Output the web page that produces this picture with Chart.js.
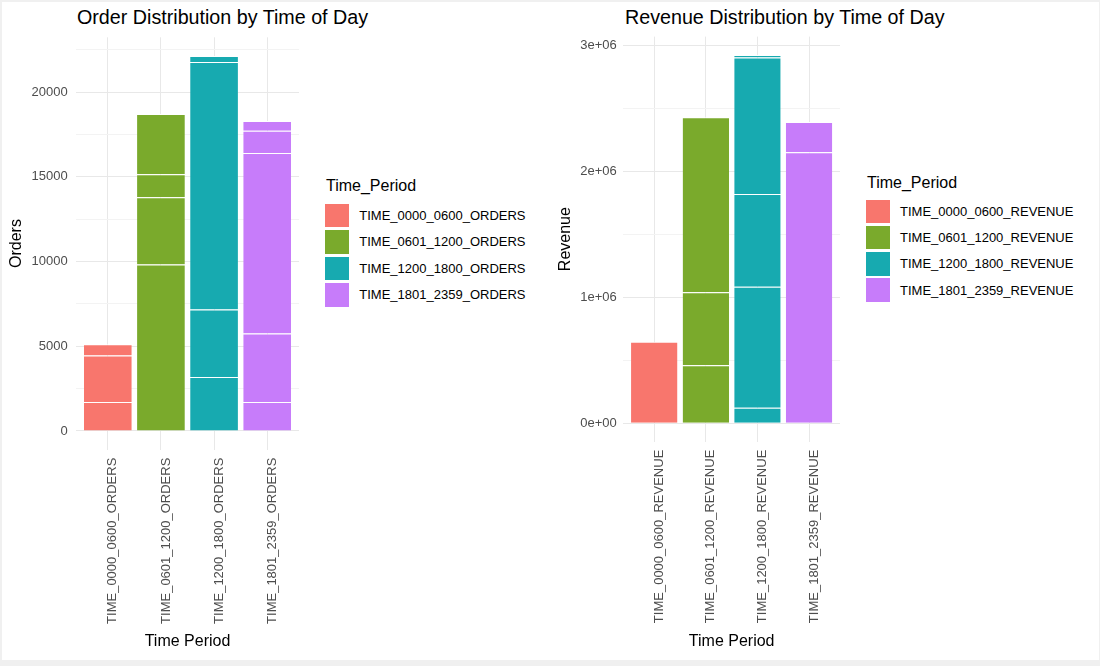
<!DOCTYPE html>
<html>
<head>
<meta charset="utf-8">
<script src="https://cdn.jsdelivr.net/npm/chart.js"></script>
<style>
  body { margin: 0; background: #f0f0f0; font-family: 'Liberation Sans', Arial, sans-serif; }
  #page { position: absolute; left: 2px; top: 2px; width: 1097px; height: 658px; background: #fff; }
  canvas { position: absolute; top: 0; }
  .title { position: absolute; font-size: 19.7px; line-height: 20px; color: #000; white-space: nowrap; }
  .legTitle { position: absolute; font-size: 16px; line-height: 20px; color: #000; white-space: nowrap; }
  .legRow { position: absolute; height: 24px; display: flex; align-items: center; white-space: nowrap; font-size: 13px; color: #000; }
  .legKey { width: 24px; height: 23.5px; margin-right: 10px; }
</style>
</head>
<body>
<div id="page"></div>
<div class="title" style="left:77px; top:7px;">Order Distribution by Time of Day</div>
<div class="title" style="left:625px; top:7px;">Revenue Distribution by Time of Day</div>
<canvas id="orders" width="310" height="666" style="left:0px"></canvas>
<canvas id="revenue" width="300" height="666" style="left:550px"></canvas>
<div id="legOrders"></div>
<div id="legRevenue"></div>
<script>
const orderLabels = ['TIME_0000_0600_ORDERS', 'TIME_0601_1200_ORDERS', 'TIME_1200_1800_ORDERS', 'TIME_1801_2359_ORDERS'];
const revenueLabels = ['TIME_0000_0600_REVENUE', 'TIME_0601_1200_REVENUE', 'TIME_1200_1800_REVENUE', 'TIME_1801_2359_REVENUE'];
const periodColors = ['#F8766D', '#7AAA2C', '#17AAB0', '#C77CFA'];

// pieces of each stacked bar, bottom to top
const orders0000 = [1711, 2737, 667];
const orders0601 = [9817, 3971, 1357, 3557];
const orders1200 = [3186, 3976, 14608, 354];
const orders1801 = [1711, 4035, 10655, 1321, 567];

const revenue0000 = [647000];
const revenue0601 = [460000, 579000, 1388000];
const revenue1200 = [124000, 959000, 735000, 1084000, 19000];
const revenue1801 = [2149000, 240000];

Chart.defaults.font.family = "'Liberation Sans', Arial, sans-serif";

function makeChart(id, labels, pieces, cfg) {
  const layers = Math.max(...pieces.map(p => p.length));
  const datasets = [];
  for (let k = 0; k < layers; k++) {
    const pts = [];
    pieces.forEach((p, i) => { if (p[k] !== undefined) pts.push({ x: i, y: p[k] }); });
    datasets.push({
      data: pts,
      backgroundColor: ctx => periodColors[ctx.raw ? ctx.raw.x : 0],
      borderColor: '#ffffff',
      borderWidth: { top: 1, bottom: 0, left: 0, right: 0 },
      borderSkipped: false,
      barPercentage: 0.9,
      categoryPercentage: 1
    });
  }
  const maxTotal = Math.max(...pieces.map(p => p.reduce((a, b) => a + b, 0)));

  return new Chart(document.getElementById(id), {
    type: 'bar',
    data: { datasets: datasets },
    options: {
      responsive: false,
      animation: false,
      layout: { padding: { top: cfg.top, right: cfg.right, left: 0, bottom: 0 } },
      plugins: { legend: { display: false }, tooltip: { enabled: false } },
      scales: {
        x: {
          type: 'linear',
          min: -0.6,
          max: labels.length - 0.4,
          offset: false,
          stacked: true,
          grid: { color: '#e8e8e8', drawTicks: false, offset: false },
          border: { display: false },
          afterBuildTicks: s => { s.ticks = labels.map((_, i) => ({ value: i })); },
          afterFit: s => { s.height = cfg.xHeight; },
          ticks: {
            autoSkip: false, minRotation: 90, maxRotation: 90,
            padding: 8, labelOffset: 5, color: '#4d4d4d', font: { size: 13 },
            callback: v => labels[v]
          },
          title: { display: true, text: 'Time Period', color: '#000', font: { size: 16 }, padding: { top: 0, bottom: 14.4 } }
        },
        y: {
          stacked: true,
          min: -0.05 * maxTotal,
          max: 1.05 * maxTotal,
          grid: {
            drawTicks: false,
            color: ctx => (ctx.tick && ctx.tick.value % cfg.major === 0) ? '#e8e8e8' : '#f3f3f3'
          },
          border: { display: false },
          afterBuildTicks: s => {
            const t = [];
            for (let v = 0; v <= s.max; v += cfg.major / 2) t.push({ value: v });
            s.ticks = t;
          },
          afterFit: s => { s.width = cfg.yWidth; },
          ticks: {
            padding: cfg.tickPad, color: '#4d4d4d', font: { size: 13 },
            callback: v => v % cfg.major === 0 ? cfg.fmt(v) : ''
          },
          title: { display: true, text: cfg.yTitle, color: '#000', font: { size: 16 }, padding: { top: cfg.titlePad, bottom: 0 } }
        }
      }
    }
  });
}

makeChart('orders', orderLabels, [orders0000, orders0601, orders1200, orders1801], {
  top: 37.3, right: 11, xHeight: 216.3, yWidth: 76, tickPad: 8.3, titlePad: 6.9,
  major: 5000, yTitle: 'Orders', fmt: v => String(v)
});

makeChart('revenue', revenueLabels, [revenue0000, revenue0601, revenue1200, revenue1801], {
  top: 36.6, right: 10, xHeight: 224.3, yWidth: 73.3, tickPad: 6.6, titlePad: 6.2,
  major: 1000000, yTitle: 'Revenue', fmt: v => v === 0 ? '0e+00' : (v / 1e6) + 'e+06'
});

function buildLegend(el, labels, x, titleY, keyTop, pitch, textX) {
  const box = document.getElementById(el);
  const t = document.createElement('div');
  t.className = 'legTitle';
  t.style.left = (x + 1) + 'px';
  t.style.top = (titleY - 10) + 'px';
  t.textContent = 'Time_Period';
  box.appendChild(t);
  labels.forEach((lab, i) => {
    const row = document.createElement('div');
    row.className = 'legRow';
    row.style.left = x + 'px';
    row.style.top = (keyTop + i * pitch) + 'px';
    const key = document.createElement('div');
    key.className = 'legKey';
    key.style.background = periodColors[i];
    key.style.marginRight = (textX - x - 24) + 'px';
    const txt = document.createElement('span');
    txt.textContent = lab;
    row.appendChild(key);
    row.appendChild(txt);
    box.appendChild(row);
  });
}

buildLegend('legOrders', orderLabels, 325, 186, 203.3, 26.5, 359.3);
buildLegend('legRevenue', revenueLabels, 866, 183, 199.3, 26.3, 900);
</script>
</body>
</html>
